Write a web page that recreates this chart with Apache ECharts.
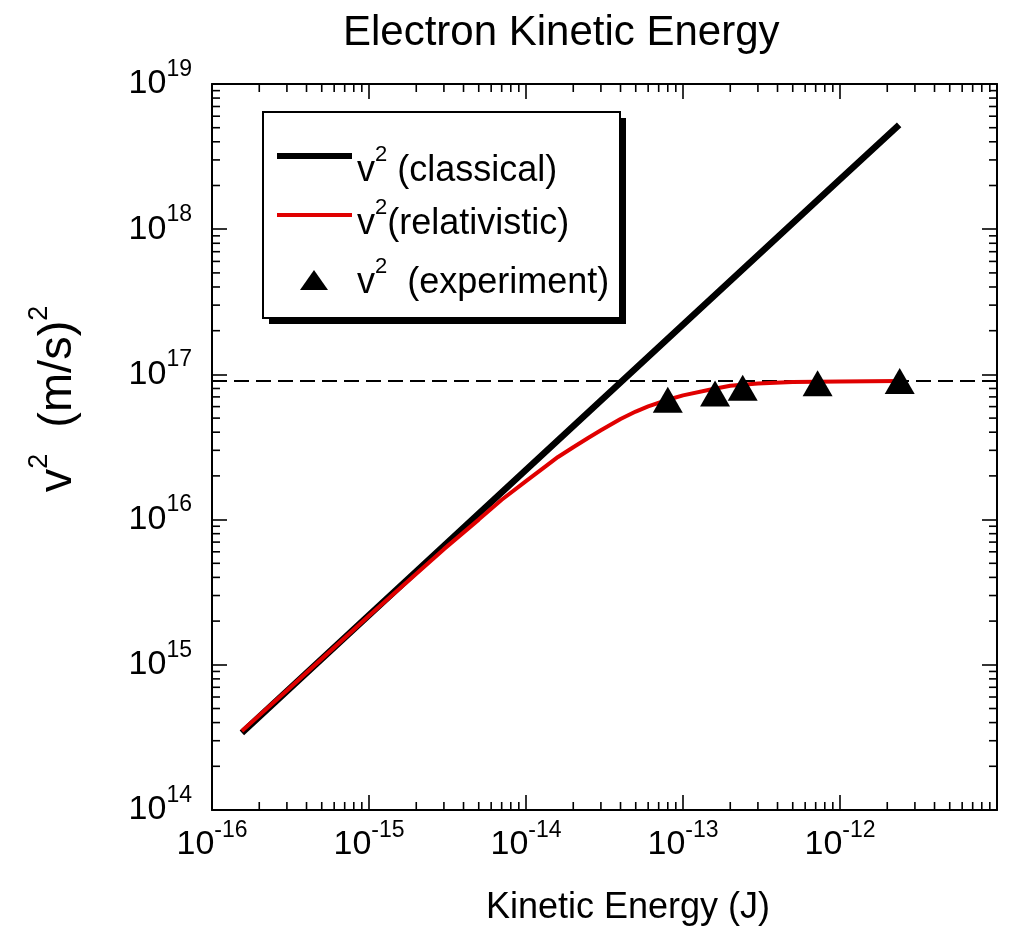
<!DOCTYPE html>
<html>
<head>
<meta charset="utf-8">
<script src="https://cdn.jsdelivr.net/npm/echarts@6/dist/echarts.min.js"></script>
<style>html,body{margin:0;padding:0;background:#fff}#main{width:1013px;height:936px}</style>
</head>
<body>
<div id="main"></div>
<script>
const FONT = '"Liberation Sans", Arial, Helvetica, sans-serif';

// Kinetic energy (J) and v^2 ((m/s)^2)
const classicalEnergy = [1.55e-16, 1e-15, 1e-14, 1e-13, 1e-12, 2.38e-12];
const classicalV2 = [3.40e14, 2.20e15, 2.20e16, 2.20e17, 2.20e18, 5.23e18];

const relEnergy = [1.55e-16, 3e-16, 1e-15, 3e-15, 5e-15, 7e-15, 1e-14, 1.3e-14, 1.6e-14, 2e-14, 2.5e-14, 3e-14, 4e-14, 5e-14, 6e-14, 8e-14, 1e-13, 1.5e-13, 2e-13, 3e-13, 5e-13, 1e-12, 2.38e-12];
const relV2 = [3.5e14, 6.65e14, 2.18e15, 6.26e15, 1.0e16, 1.37e16, 1.84e16, 2.28e16, 2.70e16, 3.15e16, 3.66e16, 4.12e16, 4.93e16, 5.55e16, 6.02e16, 6.69e16, 7.17e16, 7.87e16, 8.35e16, 8.65e16, 8.85e16, 8.94e16, 8.99e16];

const expEnergy = [8.0e-14, 1.6e-13, 2.4e-13, 7.2e-13, 2.4e-12];
const expV2 = [6.7e16, 7.4e16, 8.1e16, 8.7e16, 9.0e16];

const limitEnergy = [1e-16, 1e-11];
const limitV2 = [8.99e16, 8.99e16];

// axes
const xMinVal = 1e-16, xMaxVal = 1e-11;
const yMinVal = 1e14, yMaxVal = 1e19;
const xTickExponents = [-16, -15, -14, -13, -12];
const yTickExponents = [14, 15, 16, 17, 18, 19];
const xDecades = [-16, -15, -14, -13, -12];
const yDecades = [14, 15, 16, 17, 18];
const minorMultipliers = [2, 3, 4, 5, 6, 7, 8, 9];

const seriesNames = ['classical', 'relativistic', 'experiment'];
const legendLabels = { classical: ' (classical)', relativistic: '(relativistic)', experiment: '  (experiment)' };

const zip = (a, b) => a.map((v, i) => [v, b[i]]);

const minorTickData = [];
xDecades.forEach(d => minorMultipliers.forEach(m => minorTickData.push([m * Math.pow(10, d), yMinVal, 0])));
yDecades.forEach(d => minorMultipliers.forEach(m => minorTickData.push([xMinVal, m * Math.pow(10, d), 1])));

function powLabel(value, list) {
  const e = Math.round(Math.log10(value));
  return list.indexOf(e) >= 0 ? '{b|10}{s|' + e + '}' : '';
}
const tickRich = {
  b: { fontSize: 34, fontFamily: FONT, color: '#000', lineHeight: 52 },
  s: { fontSize: 23, fontFamily: FONT, color: '#000', lineHeight: 23, verticalAlign: 'top' }
};
const legendRich = {
  v: { fontSize: 36, fontFamily: FONT, color: '#000', lineHeight: 54 },
  s: { fontSize: 22, fontFamily: FONT, color: '#000', lineHeight: 22, verticalAlign: 'top' },
  sp: { width: 24, fontSize: 10, lineHeight: 10 }
};
function legendFmt(name) {
  const pre = name === 'experiment' ? '{sp| }' : '';
  return pre + '{v|v}{s|2}{v|' + legendLabels[name] + '}';
}

function renderMinorTicks(params, api) {
  const cs = params.coordSys;
  const kind = api.value(2);
  const p = api.coord([api.value(0), api.value(1)]);
  const L = 8;
  const style = { stroke: '#000', lineWidth: 1.6 };
  if (kind === 0) {
    return { type: 'group', children: [
      { type: 'line', shape: { x1: p[0], y1: cs.y + cs.height, x2: p[0], y2: cs.y + cs.height - L }, style },
      { type: 'line', shape: { x1: p[0], y1: cs.y, x2: p[0], y2: cs.y + L }, style }
    ] };
  }
  return { type: 'group', children: [
    { type: 'line', shape: { x1: cs.x, y1: p[1], x2: cs.x + L, y2: p[1] }, style },
    { type: 'line', shape: { x1: cs.x + cs.width, y1: p[1], x2: cs.x + cs.width - L, y2: p[1] }, style }
  ] };
}

const axisCommon = {
  type: 'log', logBase: 10, splitNumber: 5,
  axisLine: { onZero: false, lineStyle: { color: '#000', width: 2 } },
  axisTick: { inside: true, length: 15, lineStyle: { color: '#000', width: 1.6 } },
  splitLine: { show: false },
  minorTick: { show: false }
};

const chart = echarts.init(document.getElementById('main'), null, { renderer: 'canvas' });
chart.setOption({
  backgroundColor: '#fff',
  animation: false,
  title: {
    text: 'Electron Kinetic Energy',
    left: 343, top: 12,
    padding: 0,
    textStyle: { fontSize: 42, fontWeight: 'normal', fontFamily: FONT, color: '#000' }
  },
  grid: { left: 212, right: 16, top: 84, bottom: 126, containLabel: false },
  xAxis: [
    Object.assign({}, axisCommon, {
      position: 'bottom', min: xMinVal, max: xMaxVal,
      axisLabel: { margin: 9, formatter: v => powLabel(v, xTickExponents), rich: tickRich, showMinLabel: true, showMaxLabel: true },
      name: 'Kinetic Energy (J)', nameLocation: 'middle', nameGap: 80,
      nameTextStyle: { fontSize: 36, fontFamily: FONT, color: '#000', padding: [0, 0, 0, 47] }
    }),
    Object.assign({}, axisCommon, {
      position: 'top', min: xMinVal, max: xMaxVal, axisLabel: { show: false }
    })
  ],
  yAxis: [
    Object.assign({}, axisCommon, {
      position: 'left', min: yMinVal, max: yMaxVal,
      axisLabel: { margin: 20, formatter: v => powLabel(v, yTickExponents), rich: tickRich, showMinLabel: true, showMaxLabel: true },
      name: '{v|v}{s|2}{v|  (m/s)}{s|2}', nameLocation: 'middle', nameGap: 122,
      nameTextStyle: {
        padding: [0, 0, 0, 96],
        rich: {
          v: { fontSize: 47, fontFamily: FONT, color: '#000', lineHeight: 64 },
          s: { fontSize: 27, fontFamily: FONT, color: '#000', lineHeight: 27, verticalAlign: 'top' }
        }
      }
    }),
    Object.assign({}, axisCommon, {
      position: 'right', min: yMinVal, max: yMaxVal, axisLabel: { show: false }
    })
  ],
  graphic: [
    { type: 'rect', z: 10, shape: { x: 269, y: 118, width: 357, height: 206 }, style: { fill: '#000' }, silent: true },
    { type: 'rect', z: 11, shape: { x: 263, y: 112, width: 357, height: 206 }, style: { fill: '#fff', stroke: '#000', lineWidth: 2 }, silent: true }
  ],
  legend: [
    { z: 20, data: ['classical'], left: 277, top: 144, padding: 0, orient: 'vertical', itemWidth: 75, itemHeight: 6, icon: 'rect', selectedMode: false,
      formatter: legendFmt, textStyle: { padding: [30, 0, 0, 0], rich: legendRich } },
    { z: 20, data: ['relativistic'], left: 277, top: 197, padding: 0, orient: 'vertical', itemWidth: 75, itemHeight: 4, icon: 'rect', selectedMode: false,
      formatter: legendFmt, textStyle: { padding: [18, 0, 0, 0], rich: legendRich } },
    { z: 20, data: ['experiment'], left: 300, top: 256, padding: 0, orient: 'vertical', itemWidth: 28, itemHeight: 20, icon: 'triangle', selectedMode: false,
      formatter: legendFmt, textStyle: { padding: [6, 0, 0, 0], rich: legendRich } }
  ],
  series: [
    { name: 'limit', type: 'line', data: zip(limitEnergy, limitV2), symbol: 'none', silent: true,
      lineStyle: { color: '#000', width: 2, type: [15, 7] }, z: 2 },
    { name: 'classical', type: 'line', data: zip(classicalEnergy, classicalV2), symbol: 'none',
      itemStyle: { color: '#000' }, lineStyle: { color: '#000', width: 6.5, cap: 'butt' }, z: 3 },
    { name: 'relativistic', type: 'line', data: zip(relEnergy, relV2), symbol: 'none',
      itemStyle: { color: '#e00000' }, lineStyle: { color: '#e00000', width: 4 }, z: 4 },
    { name: 'experiment', type: 'scatter', data: zip(expEnergy, expV2), symbol: 'triangle', symbolSize: [30, 26],
      itemStyle: { color: '#000', opacity: 1 }, z: 5 },
    { name: 'minorTicks', type: 'custom', data: minorTickData, renderItem: renderMinorTicks, silent: true, clip: false, z: 6 }
  ]
});
</script>
</body>
</html>
